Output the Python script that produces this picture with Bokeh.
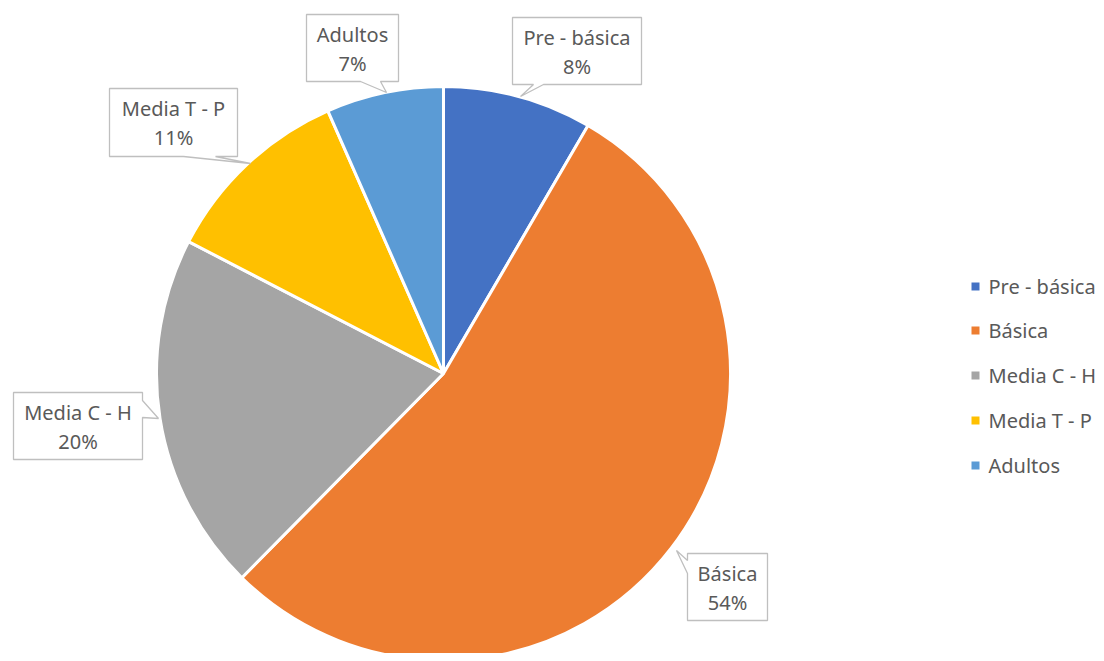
import math
from bokeh.plotting import figure
from bokeh.models import Range1d, ColumnDataSource
from bokeh.core.properties import value
from bokeh.embed import file_html
from bokeh.resources import INLINE

# ---- data ----
categories = ["Pre - básica", "Básica", "Media C - H", "Media T - P", "Adultos"]
shares = [8.4, 54.0, 20.2, 10.8, 6.6]
colors = ["#4472C4", "#ED7D31", "#A5A5A5", "#FFC000", "#5B9BD5"]

W, H = 1096, 653
FONT = value("Noto Sans")
TXT = "#595959"

def px(x):
    return x

def py(y):
    return H - y

p = figure(width=W, height=H, output_backend="svg", toolbar_location=None,
           x_range=Range1d(0, W), y_range=Range1d(0, H), min_border=0)
p.axis.visible = False
p.grid.visible = False
p.outline_line_color = None
p.background_fill_color = "white"
p.border_fill_color = "white"

# ---- pie ----
cx, cy, r = px(443), py(373), 287
total = sum(shares)
starts, ends = [], []
cum = 0.0
for s in shares:
    starts.append(math.pi / 2 - 2 * math.pi * cum / total)
    cum += s
    ends.append(math.pi / 2 - 2 * math.pi * cum / total)
src = ColumnDataSource(dict(x=[cx] * len(shares), y=[cy] * len(shares),
                            s=starts, e=ends, c=colors))
p.wedge(x="x", y="y", radius=r, start_angle="s", end_angle="e", direction="clock",
        fill_color="c", line_color="white", line_width=3, source=src)

# ---- callouts (layout in image pixel coords) ----
callouts = [
    (512, 17, 641, 84, "bottom", 543, 533, (520, 96)),   # Pre - básica
    (687, 553, 767, 620, "left", 573, 560, (676, 550)),  # Básica
    (13, 392, 142, 459, "right", 400, 417, (158, 418)),  # Media C - H
    (109, 88, 237, 156, "bottom", 215, 183, (250, 163)),  # Media T - P
    (306, 14, 398, 81, "bottom", 380, 360, (386, 92)),   # Adultos
]

for i, (x0, y0, x1, y1, edge, a, b, tip) in enumerate(callouts):
    if edge == "bottom":
        pts = [(x0, y0), (x1, y0), (x1, y1), (max(a, b), y1), tip, (min(a, b), y1), (x0, y1)]
    elif edge == "left":
        pts = [(x0, y0), (x1, y0), (x1, y1), (x0, y1), (x0, max(a, b)), tip, (x0, min(a, b))]
    else:  # right
        pts = [(x0, y0), (x1, y0), (x1, min(a, b)), tip, (x1, max(a, b)), (x1, y1), (x0, y1)]
    p.patch([px(q[0]) for q in pts], [py(q[1]) for q in pts],
            fill_color="white", line_color="#BFBFBF", line_width=1.3)
    mx = px((x0 + x1) / 2)
    my = (y0 + y1) / 2
    pct = f"{round(shares[i] / total * 100)}%"
    p.text(x=[mx, mx], y=[py(my - 14), py(my + 15)], text=[categories[i], pct],
           text_font=FONT, text_font_size="20px", text_color=TXT,
           text_align="center", text_baseline="middle")

# ---- legend ----
leg_y = [286, 330, 375, 420, 465]
lx = px(975)
p.rect(x=[lx] * 5, y=[py(v) for v in leg_y], width=8, height=8, fill_color=colors,
       line_color=None)
p.text(x=[px(988)] * 5, y=[py(v) for v in leg_y], text=categories,
       text_font=FONT, text_font_size="20px", text_color=TXT,
       text_align="left", text_baseline="middle")

open("out.html", "w").write(file_html(p, INLINE))
